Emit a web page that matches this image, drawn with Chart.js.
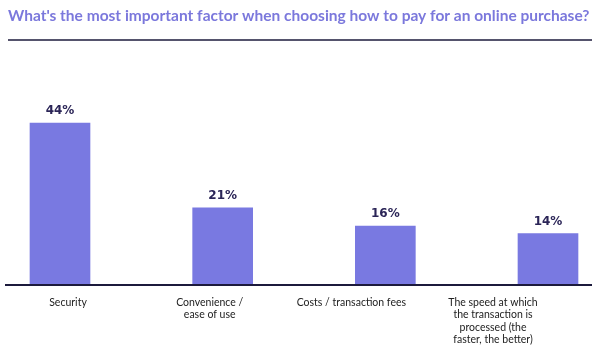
<!DOCTYPE html>
<html>
<head>
<meta charset="utf-8">
<style>
  html, body { margin: 0; padding: 0; background: #ffffff; }
  #wrap { width: 600px; height: 350px; }
</style>
<script src="https://cdn.jsdelivr.net/npm/chart.js@4"></script>
</head>
<body>
<div id="wrap"><canvas id="c" width="600" height="350"></canvas></div>
<script>
const titleText = "What's the most important factor when choosing how to pay for an online purchase?";
const categories = ['Security', 'Convenience / ease of use', 'Costs / transaction fees', 'The speed at which the transaction is processed (the faster, the better)'];
const tickLabels = [
  ['Security'],
  ['Convenience /', 'ease of use'],
  ['Costs / transaction fees'],
  ['The speed at which', 'the transaction is', 'processed (the', 'faster, the better)']
];
const values = [44, 21, 16, 14];
const valueLabels = ['44%', '21%', '16%', '14%'];

const BAR = '#7979e1';
const DARK = '#1c1a3c';

const decor = {
  id: 'decor',
  afterDraw(chart) {
    const ctx = chart.ctx;
    const y0 = chart.scales.y.getPixelForValue(0);
    ctx.save();
    ctx.strokeStyle = DARK;
    ctx.lineWidth = 1.5;
    ctx.beginPath();
    ctx.moveTo(8, 40);
    ctx.lineTo(592, 40);
    ctx.stroke();
    ctx.lineWidth = 2;
    ctx.beginPath();
    ctx.moveTo(5, Math.round(y0));
    ctx.lineTo(592, Math.round(y0));
    ctx.stroke();
    ctx.restore();
  },
  afterDatasetsDraw(chart) {
    const ctx = chart.ctx;
    const meta = chart.getDatasetMeta(0);
    ctx.save();
    ctx.fillStyle = '#2b2557';
    ctx.font = 'bold 12px "DejaVu Sans"';
    ctx.textAlign = 'center';
    ctx.textBaseline = 'bottom';
    meta.data.forEach((bar, i) => {
      ctx.fillText(valueLabels[i], bar.x, bar.y - 6);
    });
    ctx.restore();
  }
};

new Chart(document.getElementById('c'), {
  type: 'bar',
  data: {
    labels: categories,
    datasets: [{
      data: values,
      backgroundColor: BAR,
      borderWidth: 0,
      barThickness: 60,
      clip: false
    }]
  },
  options: {
    responsive: false,
    animation: false,
    layout: { padding: { left: 8, right: 8, top: 0, bottom: 0 } },
    plugins: {
      legend: { display: false },
      tooltip: { enabled: false },
      title: {
        display: true,
        text: titleText,
        align: 'start',
        color: '#7b78dc',
        font: { family: 'Lato', weight: 'bold', size: 15.5, lineHeight: 1.2 },
        padding: { top: 7, bottom: 75.4 }
      }
    },
    scales: {
      x: {
        type: 'category',
        display: false,
        offset: false
      },
      x2: {
        type: 'linear',
        position: 'bottom',
        offset: false,
        min: -0.0565,
        max: 3.388,
        grid: { display: false, drawTicks: false, offset: false },
        border: { display: false },
        afterBuildTicks(scale) { scale.ticks = [0, 1, 2, 3].map(v => ({ value: v })); },
        afterFit(scale) { scale.height = 65; },
        ticks: {
          autoSkip: false,
          maxRotation: 0,
          padding: 11,
          color: '#222222',
          font: { family: 'Lato', size: 10.5, lineHeight: 1.2 },
          callback: (v) => tickLabels[v] || ''
        }
      },
      y: {
        position: 'left',
        min: 0,
        max: 50,
        grid: { display: false, drawTicks: false },
        border: { display: false },
        ticks: { display: false },
        afterFit(scale) { scale.width = 52; }
      },
      y2: {
        position: 'right',
        display: true,
        min: 0,
        max: 50,
        grid: { display: false, drawTicks: false },
        border: { display: false },
        ticks: { display: false },
        afterFit(scale) { scale.width = 44; }
      }
    }
  },
  plugins: [decor]
});
</script>
</body>
</html>
